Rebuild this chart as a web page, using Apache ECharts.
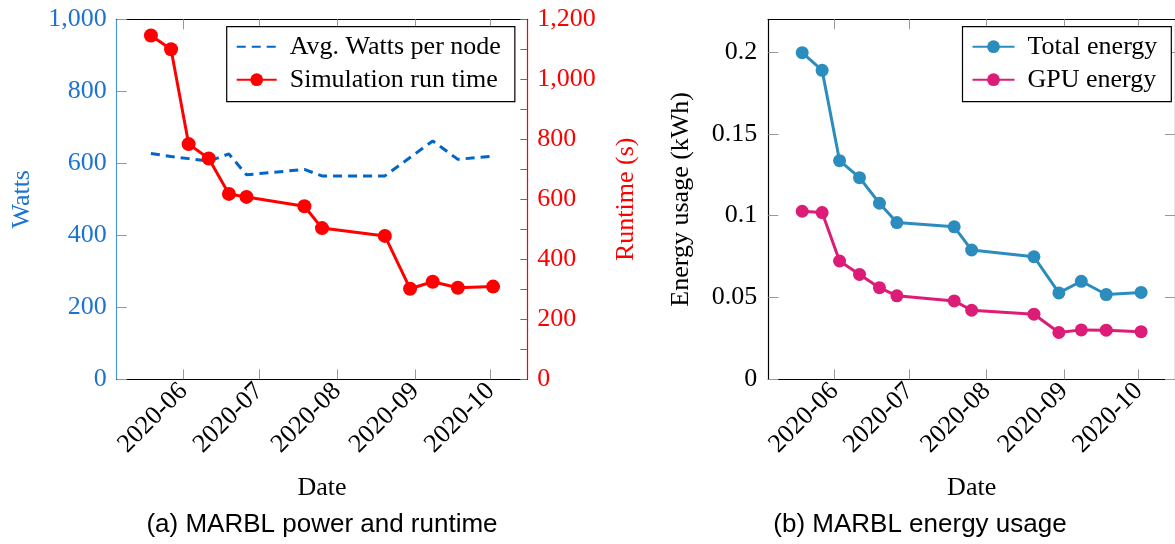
<!DOCTYPE html>
<html><head><meta charset="utf-8">
<script src="https://cdn.jsdelivr.net/npm/echarts@6/dist/echarts.min.js"></script>
<style>html,body{margin:0;padding:0;background:#fff}#c{width:1175px;height:544px}</style>
</head><body><div id="c"></div>
<script>
// ---- data ----
const dates = ['2020-05-19','2020-05-27','2020-06-03','2020-06-11','2020-06-19','2020-06-26','2020-07-19','2020-07-26','2020-08-20','2020-08-30','2020-09-08','2020-09-18','2020-10-02'];
const wattsPerNode = [627,619,613,606,626,568,583,565,565,616,662,611,620];
const runtimeSec = [1146,1100,784,736,618,608,577,504,478,302,325,305,309];
const totalEnergy = [0.1996,0.1888,0.1336,0.1232,0.1076,0.0958,0.0932,0.0790,0.0749,0.0528,0.0599,0.0518,0.0531];
const gpuEnergy = [0.1027,0.1019,0.0723,0.0641,0.0560,0.0510,0.0479,0.0422,0.0398,0.0286,0.0302,0.0300,0.0291];
const monthTicks = ['2020-06-01','2020-07-01','2020-08-01','2020-09-01','2020-10-01'];
const wattsTicks = [0,200,400,600,800,1000];
const runtimeTicks = [0,200,400,600,800,1000,1200];
const energyTicks = [0,0.05,0.1,0.15,0.2];

const SERIF = '"Liberation Serif", "Times New Roman", serif';
const SANS = '"Liberation Sans", Arial, sans-serif';
const ts = d => Date.parse(d);
const tX = dates.map(ts);
const monthTs = monthTicks.map(ts);
const span = tX[tX.length-1] - tX[0];
const xMin = tX[0] - 0.1*span, xMax = tX[tX.length-1] + 0.1*span;
const pair = arr => arr.map((v,i)=>[tX[i], v]);
const fmtMonth = v => { const d = new Date(v); return d.getUTCFullYear() + '-' + String(d.getUTCMonth()+1).padStart(2,'0'); };

function xAxisCfg(gridIndex, position, withLabels) {
  return {
    type: 'value', gridIndex, position, min: xMin, max: xMax, scale: true,
    name: withLabels ? 'Date' : '', nameLocation: 'middle', nameGap: 96,
    nameTextStyle: {fontFamily: SERIF, fontSize: 26, color: '#000'},
    axisLine: {show: true, onZero: false, lineStyle: {color: '#000', width: 1.2}},
    axisTick: {show: true, inside: true, length: 10, customValues: monthTs, lineStyle: {color: '#999', width: 1}},
    axisLabel: {show: withLabels, customValues: monthTs, rotate: 45, margin: 8, fontFamily: SERIF, fontSize: 26, color: '#000', formatter: fmtMonth, hideOverlap: false, showMinLabel: true, showMaxLabel: true},
    splitLine: {show: false}
  };
}

const option = {
  animation: false,
  backgroundColor: '#fff',
  grid: [
    {left: 116.7, top: 19.3, width: 410.6, height: 360},
    {left: 768.3, top: 19.3, width: 410.6, height: 360}
  ],
  xAxis: [
    xAxisCfg(0, 'bottom', true),
    xAxisCfg(0, 'top', false),
    xAxisCfg(1, 'bottom', true),
    xAxisCfg(1, 'top', false)
  ],
  yAxis: [
    {type: 'value', gridIndex: 0, position: 'left', min: 0, max: 1000, interval: 200,
     name: 'Watts', nameLocation: 'middle', nameGap: 82,
     nameTextStyle: {fontFamily: SERIF, fontSize: 26, color: '#1c74d0'},
     axisLine: {show: true, lineStyle: {color: '#4a96e0', width: 1.2}},
     axisTick: {show: true, inside: true, length: 10, lineStyle: {color: '#999'}},
     axisLabel: {customValues: wattsTicks, margin: 10, fontFamily: SERIF, fontSize: 26, color: '#1c74d0'},
     splitLine: {show: false}},
    {type: 'value', gridIndex: 0, position: 'right', min: 0, max: 1200, interval: 100,
     name: 'Runtime (s)', nameLocation: 'middle', nameGap: 86,
     nameTextStyle: {fontFamily: SERIF, fontSize: 26, color: '#ff0000'},
     axisLine: {show: true, lineStyle: {color: '#ff0000', width: 1.2}},
     axisTick: {show: true, inside: true, length: 7, lineStyle: {color: '#ff3030'}},
     axisLabel: {customValues: runtimeTicks, margin: 10, fontFamily: SERIF, fontSize: 26, color: '#ff0000'},
     splitLine: {show: false}},
    {type: 'value', gridIndex: 1, position: 'left', min: 0, max: 0.22,
     name: 'Energy usage (kWh)', nameLocation: 'middle', nameGap: 74,
     nameTextStyle: {fontFamily: SERIF, fontSize: 26, color: '#000'},
     axisLine: {show: true, lineStyle: {color: '#000', width: 1.2}},
     axisTick: {show: true, inside: true, length: 10, customValues: energyTicks, lineStyle: {color: '#999'}},
     axisLabel: {customValues: energyTicks, margin: 11, fontFamily: SERIF, fontSize: 26, color: '#000'},
     splitLine: {show: false}},
    {type: 'value', gridIndex: 1, position: 'right', min: 0, max: 0.22,
     axisLine: {show: true, lineStyle: {color: '#000', width: 1.2}},
     axisTick: {show: true, inside: true, length: 10, customValues: energyTicks, lineStyle: {color: '#999'}},
     axisLabel: {show: false},
     splitLine: {show: false}}
  ],
  legend: [
    {data: [{name: 'Avg. Watts per node', itemStyle: {opacity: 0}}, 'Simulation run time'], left: 226.7, top: 26.7, orient: 'vertical',
     itemWidth: 40, itemHeight: 16, itemGap: 7, padding: [7, 14, 9, 9],
     borderColor: '#000', borderWidth: 1.2, borderRadius: 0, backgroundColor: '#fff',
     textStyle: {fontFamily: SERIF, fontSize: 26, color: '#000', lineHeight: 26, padding: [0,0,0,8]}},
    {data: ['Total energy', 'GPU energy'], left: 962.5, top: 26.7, orient: 'vertical',
     itemWidth: 42, itemHeight: 16, itemGap: 7, padding: [7, 14, 9, 9],
     borderColor: '#000', borderWidth: 1.2, borderRadius: 0, backgroundColor: '#fff',
     textStyle: {fontFamily: SERIF, fontSize: 26, color: '#000', lineHeight: 26, padding: [0,0,0,8]}}
  ],
  series: [
    {type: 'line', name: 'Avg. Watts per node', xAxisIndex: 0, yAxisIndex: 0, data: pair(wattsPerNode),
     symbol: 'none', color: '#0066cc', lineStyle: {color: '#0066cc', width: 3, type: [9, 6]}, z: 3},
    {type: 'line', name: 'Simulation run time', xAxisIndex: 0, yAxisIndex: 1, data: pair(runtimeSec),
     symbol: 'circle', symbolSize: 14, color: '#ff0000', lineStyle: {color: '#ff0000', width: 3}, z: 4},
    {type: 'line', name: 'Total energy', xAxisIndex: 2, yAxisIndex: 2, data: pair(totalEnergy),
     symbol: 'circle', symbolSize: 13, color: '#2b8cbe', lineStyle: {color: '#2b8cbe', width: 3}},
    {type: 'line', name: 'GPU energy', xAxisIndex: 2, yAxisIndex: 2, data: pair(gpuEnergy),
     symbol: 'circle', symbolSize: 13, color: '#dd1c77', lineStyle: {color: '#dd1c77', width: 3}}
  ],
  graphic: [
    {type: 'text', x: 322, y: 525, style: {text: '(a) MARBL power and runtime', font: '26px ' + SANS, fill: '#000', textAlign: 'center', textVerticalAlign: 'middle'}},
    {type: 'text', x: 920, y: 525, style: {text: '(b) MARBL energy usage', font: '26px ' + SANS, fill: '#000', textAlign: 'center', textVerticalAlign: 'middle'}}
  ]
};
const chart = echarts.init(document.getElementById('c'), null, {renderer: 'canvas'});
chart.setOption(option);
</script></body></html>
